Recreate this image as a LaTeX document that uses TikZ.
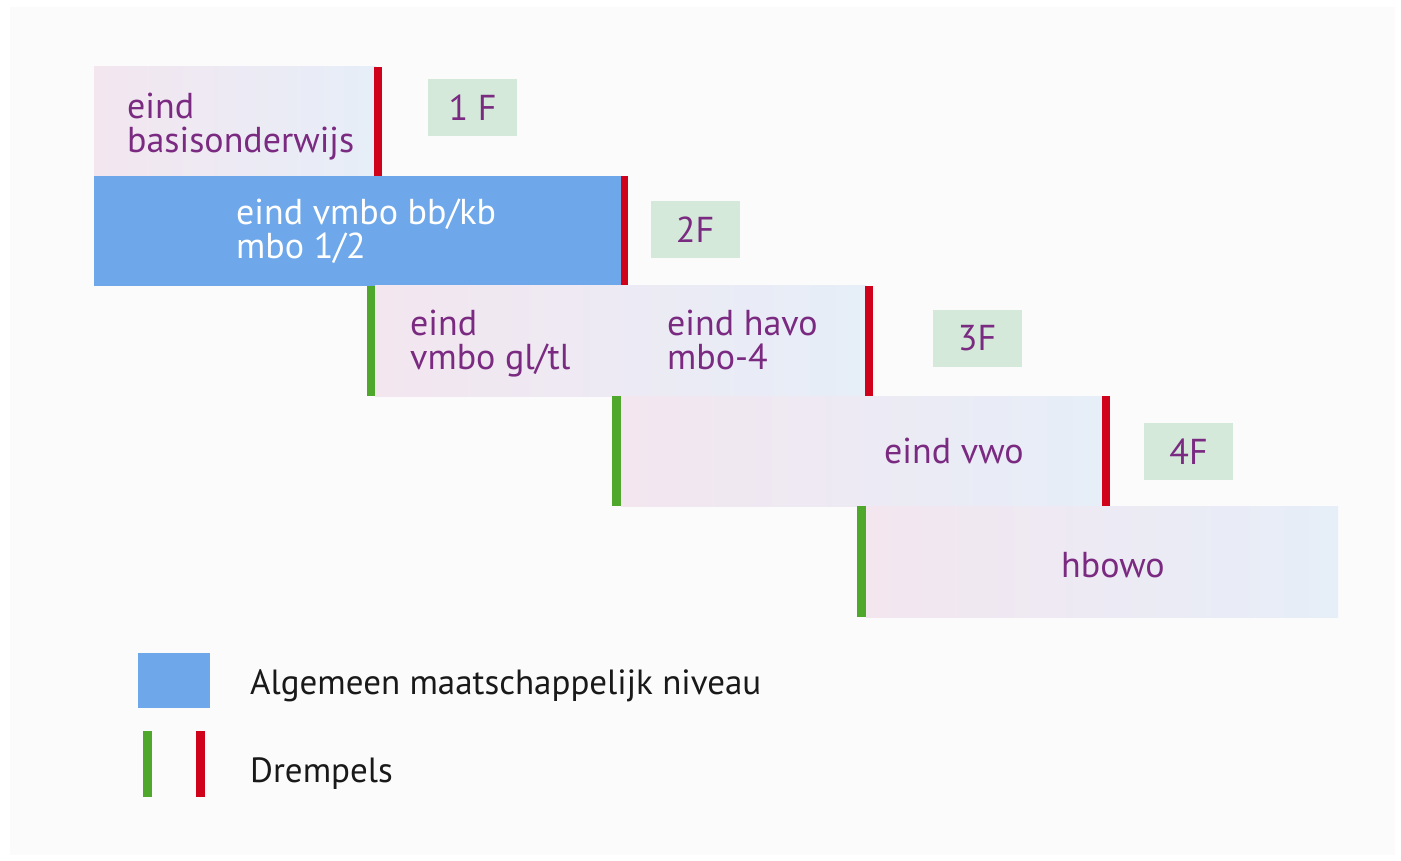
\documentclass[tikz,border=0pt]{standalone}
\usepackage{fontspec}
\setmainfont{PT Sans}
\definecolor{bgc}{HTML}{FBFBFC}
\definecolor{barblue}{HTML}{6EA8EA}
\definecolor{thred}{HTML}{D0021B}
\definecolor{thgreen}{HTML}{4FA82C}
\definecolor{txtpurple}{HTML}{7A2A80}
\definecolor{lblgreen}{HTML}{D4E9DA}
\definecolor{gradl}{HTML}{F3E6EF}
\definecolor{gradr}{HTML}{E6EEF8}
\begin{document}
\begin{tikzpicture}[x=1pt,y=-1pt,
  gradbox/.style={left color=gradl,right color=gradr,draw=none},
  redbar/.style={fill=thred,draw=none},
  greenbar/.style={fill=thgreen,draw=none},
  flabel/.style={fill=lblgreen,text=txtpurple,minimum width=89pt,minimum height=57pt,inner sep=0pt,font=\fontsize{36}{34}\selectfont},
  boxtext/.style={text=txtpurple,align=left,inner sep=0pt,font=\fontsize{36}{34}\selectfont},
  legtext/.style={text=black!90,inner sep=0pt,anchor=base west,font=\fontsize{35}{34}\selectfont}]
\useasboundingbox (0,0) rectangle (1401,861);
\fill[white] (0,0) rectangle (1401,861);
\fill[bgc] (10,7) rectangle (1395,855);
% row 1
\path[gradbox] (94,67) rectangle (376,176);
\path[redbar] (374,67) rectangle (382,176);
\node[boxtext,anchor=base west] (t1) at (127,153) {eind\\basisonderwijs};
\node[flabel] (f1) at (472.5,107.5) {1 F};
% row 2
\fill[barblue] (94,176) rectangle (621,286);
\path[redbar] (621,176) rectangle (628,286);
\node[boxtext,text=white,anchor=base west] (t2) at (236,259) {eind vmbo bb/kb\\mbo 1/2};
\node[flabel] (f2) at (695,229.5) {2F};
% row 3
\path[gradbox] (375,286) rectangle (866,396);
\path[greenbar] (367,286) rectangle (375,396);
\path[redbar] (865,286) rectangle (873,396);
\node[boxtext,anchor=base west] (t3a) at (410,369) {eind\\vmbo gl/tl};
\node[boxtext,anchor=base west] (t3b) at (667,369) {eind havo\\mbo-4};
\node[flabel] (f3) at (977,338.5) {3F};
% row 4
\path[gradbox] (621,396) rectangle (1102,506);
\path[greenbar] (612,396) rectangle (621,506);
\path[redbar] (1102,396) rectangle (1110,506);
\node[boxtext,anchor=base west] (t4) at (884,463) {eind vwo};
\node[flabel] (f4) at (1188.5,451.5) {4F};
% row 5
\path[gradbox] (866,506) rectangle (1338,617);
\path[greenbar] (857,506) rectangle (866,617);
\node[boxtext,anchor=base west] (t5) at (1061,577) {hbowo};
% legend
\fill[barblue] (138,653) rectangle (210,708);
\node[legtext] (l1) at (250,694) {Algemeen maatschappelijk niveau};
\path[greenbar] (143,731) rectangle (152,797);
\path[redbar] (196,731) rectangle (205,797);
\node[legtext] (l2) at (250,782) {Drempels};
\end{tikzpicture}
\end{document}
